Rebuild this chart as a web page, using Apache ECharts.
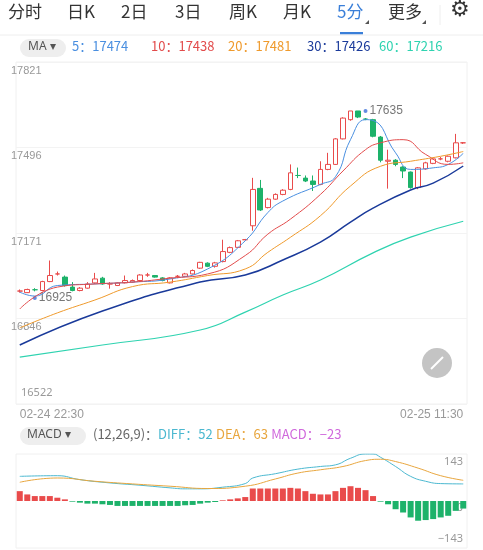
<!DOCTYPE html>
<html><head><meta charset="utf-8">
<script src="https://cdn.jsdelivr.net/npm/echarts@6/dist/echarts.min.js"></script>
<style>html,body{margin:0;padding:0;background:#fff}#c{width:483px;height:550px}</style>
</head><body><div id="c"></div>
<script>
// [open, close, low, high]
const candles = [
[16951,16951,16945,16957],[16945,16957,16944,16960],[16956,16956,16950,16962],[16953,16987,16950,16990],
[16987,17010,16985,17067],[17016,17016,17010,17025],[17004,16972,16968,17010],[16966,16953,16950,16985],
[16953,16962,16950,16966],[16962,16978,16960,16985],[16982,16997,16978,17020],[17000,16978,16975,17005],
[16978,16978,16960,16985],[16972,16982,16970,16985],[16982,16991,16980,17010],[16985,16991,16982,16995],
[16991,17012,16988,17015],[17012,17012,17005,17020],[17010,17004,17002,17012],[17001,16991,16988,17004],
[16982,17001,16980,17004],[17007,17007,17000,17012],[17007,17016,17005,17020],[17016,17029,17014,17033],
[17038,17060,17035,17062],[17057,17045,17042,17060],[17045,17058,17040,17062],[17063,17101,17060,17146],
[17098,17116,17095,17120],[17117,17142,17115,17145],[17146,17146,17143,17149],[17199,17337,17180,17381],
[17341,17259,17255,17373],[17268,17300,17265,17305],[17300,17318,17298,17322],[17318,17334,17315,17338],
[17337,17400,17334,17432],[17390,17390,17380,17420],[17380,17369,17365,17390],[17369,17356,17331,17390],
[17356,17413,17353,17444],[17413,17432,17410,17476],[17432,17529,17430,17532],[17529,17608,17527,17611],
[17602,17635,17598,17635],[17635,17612,17608,17635],[17604,17604,17600,17608],[17602,17539,17535,17605],
[17536,17448,17440,17540],[17444,17448,17340,17488],[17448,17432,17425,17452],[17422,17407,17380,17425],
[17403,17344,17340,17405],[17344,17419,17338,17422],[17415,17438,17412,17442],[17436,17453,17433,17456],
[17453,17453,17448,17460],[17444,17463,17440,17466],[17457,17514,17455,17548],[17514,17514,17510,17517]];
const ma5  = [16947,null,16932,null,null,16972,null,null,null,null,16978,null,null,null,null,16985,null,null,null,null,16997,null,null,null,null,17035,null,null,null,null,17142,null,null,17249,null,17293,null,null,null,null,17356,null,17385,null,17526,null,17602,17599,null,null,17476,null,17413,null,null,17419,null,17432,null,17474];
const ma10 = [16883,null,null,null,null,16966,null,null,null,null,16978,null,null,null,null,16985,null,null,null,null,17000,null,null,null,null,17016,null,null,null,null,17086,null,null,17167,null,null,17224,null,null,null,17318,null,null,17407,null,null,17488,null,17514,null,null,17526,null,null,17470,null,null,17432,null,17438];
const ma20 = [16811,null,null,null,null,16868,null,null,null,null,16917,null,null,null,null,16968,null,null,null,null,16985,null,null,null,null,17010,null,null,null,null,17035,null,null,17098,null,null,17155,null,null,null,17237,null,null,null,17350,null,null,null,17425,null,null,null,17444,null,null,null,17463,null,null,17481];
const ma30 = [16746,null,null,null,null,null,null,null,null,null,null,16875,null,null,null,null,null,null,null,null,null,null,null,null,16985,null,null,null,null,null,17012,null,null,null,null,17069,null,null,null,null,17137,null,null,null,17213,null,null,17266,null,null,null,null,17335,null,null,17361,null,null,null,17426];
const ma60 = [16700,null,null,null,null,null,null,null,null,null,null,16746,null,null,null,null,null,null,null,null,null,null,null,null,16803,null,null,null,null,null,16871,null,null,null,null,16936,null,null,null,null,16993,null,null,null,null,null,null,17096,null,null,null,null,17156,null,null,null,null,null,null,17216];
const macdBars = [30,20,15,15,15,10,5,-2,-5,-8,-8,-10,-12,-15,-15,-15,-15,-15,-15,-15,-15,-15,-13,-12,-8,-5,-3,2,5,8,12,38,38,38,38,38,40,38,30,22,20,20,30,40,45,40,33,15,-2,-10,-25,-35,-50,-60,-58,-55,-50,-45,-30,-23];
const diff = [75,null,null,null,null,77,null,null,65,null,null,null,55,null,null,null,48,null,null,null,40,null,37,null,37,null,null,42,null,null,53,70,null,null,83,null,null,97,null,null,105,null,110,null,130,null,143,143,133,null,105,null,75,null,60,null,53,null,null,52];
const dea = [57,null,null,null,null,70,null,null,null,null,60,null,null,null,null,52,null,null,null,null,45,null,null,null,null,38,null,null,null,null,45,null,null,null,67,null,null,85,null,null,95,null,null,105,null,null,123,null,127,null,120,null,null,100,null,null,77,null,null,63];
const categories = candles.map((d,i)=> i===0 ? '02-24 22:30' : (i===candles.length-1 ? '02-25 11:30' : 't'+i));
const yTicks = [16522,16846,17171,17496,17821];
const extremes = [[46.2,17635],[1.8,16925]];
const tabs = ['分时','日K','2日','3日','周K','月K','5分','更多'];
const tabX = [8,67,121,175,229,283,337,388];
const maLegend = [['5：17474','#4a8fe0',72],['10：17438','#e24b4b',151],['20：17481','#ef9a2c',228],['30：17426','#1a3a9a',307],['60：17216','#2fd3b0',379]];

const RED='#e94b4b', GREEN='#1db26a';
const chart = echarts.init(document.getElementById('c'));
const g = [];
tabs.forEach((t,i)=>g.push({type:'text',left:tabX[i],top:3,style:{text:t,font:'17px "Noto Sans CJK SC"',fill:i===6?'#3a7fd9':'#333'}}));
g.push({type:'polygon',shape:{points:[[365,24],[369,24],[369,20]]},style:{fill:'#555'}});
g.push({type:'polygon',shape:{points:[[422,24],[426,24],[426,20]]},style:{fill:'#555'}});
g.push({type:'rect',shape:{x:340,y:32,width:23,height:2.5},style:{fill:'#3a7fd9'}});
g.push({type:'line',shape:{x1:0,y1:35,x2:483,y2:35},style:{stroke:'#eee',lineWidth:1}});
g.push({type:'line',shape:{x1:440,y1:5,x2:440,y2:25},style:{stroke:'#eee',lineWidth:1}});
g.push({type:'text',left:450,top:-1,style:{text:'⚙',font:'22px DejaVu Sans',fill:'#333'}});
g.push({type:'rect',shape:{x:20,y:39,width:46,height:18,r:9},style:{fill:'#eeeeee'}});
g.push({type:'text',left:28,top:41,style:{text:'MA ▾',font:'12px "Noto Sans"',fill:'#555'}});
maLegend.forEach(m=>g.push({type:'text',left:m[2],top:40,style:{text:m[0],font:'13px "Noto Sans CJK SC"',fill:m[1]}}));
g.push({type:'rect',shape:{x:16,y:62,width:451,height:342},style:{fill:'none',stroke:'#f0f0f0'}});
g.push({type:'rect',shape:{x:16,y:454,width:451,height:94},style:{fill:'none',stroke:'#f0f0f0'}});
g.push({type:'text',left:21,top:387,style:{text:'16522',font:'11px "Noto Sans"',fill:'#999'}});
g.push({type:'circle',shape:{cx:437,cy:363,r:15},style:{fill:'#c4c4c4'}});
g.push({type:'line',shape:{x1:431,y1:369,x2:443,y2:357},style:{stroke:'#fff',lineWidth:2}});
g.push({type:'rect',shape:{x:20,y:427,width:66,height:18,r:9},style:{fill:'#eeeeee'}});
g.push({type:'text',left:27,top:429,style:{text:'MACD ▾',font:'12px "Noto Sans"',fill:'#555'}});
g.push({type:'text',left:93,top:428,style:{rich:{a:{fill:'#666',font:'13px "Noto Sans CJK SC"'},b:{fill:'#4bb8d0',font:'13px "Noto Sans CJK SC"'},c:{fill:'#e8a63e',font:'13px "Noto Sans CJK SC"'},d:{fill:'#d068dc',font:'13px "Noto Sans CJK SC"'}},text:'{a|(12,26,9)：}{b|DIFF：52} {c|DEA：63} {d|MACD：−23}'}});
g.push({type:'text',right:20,top:456,style:{text:'143',font:'11px "Noto Sans"',fill:'#999'}});
g.push({type:'text',right:20,top:502,style:{text:'0',font:'11px "Noto Sans"',fill:'#999'}});
g.push({type:'text',right:20,top:533,style:{text:'−143',font:'11px "Noto Sans"',fill:'#999'}});

chart.setOption({
  animation:false,
  graphic:g,
  grid:[{left:16,right:16,top:62,height:342},{left:16,right:16,top:454,height:94}],
  xAxis:[
    {type:'category',data:categories,gridIndex:0,boundaryGap:true,axisLine:{show:false},axisTick:{show:false},
     axisLabel:{interval:0,formatter:(v,i)=>(i===0||i===categories.length-1)?v:'',color:'#999',fontSize:12,margin:5,alignMinLabel:'left',alignMaxLabel:'right'}},
    {type:'category',data:categories,gridIndex:1,axisLine:{show:false},axisTick:{show:false},axisLabel:{show:false}}
  ],
  yAxis:[
    {min:16522,max:17821,interval:324.75,gridIndex:0,position:'left',axisLine:{show:false},axisTick:{show:false},
     splitLine:{lineStyle:{color:'#f3f3f3'}},
     axisLabel:{inside:true,verticalAlign:'top',color:'#999',fontSize:11,margin:-5,padding:[3,0,0,0],
       formatter:v=>{const n=Math.round(v);return n===16522?'':String(yTicks.reduce((a,b)=>Math.abs(b-n)<Math.abs(a-n)?b:a));}}},
    {min:-143,max:143,interval:143,gridIndex:1,axisLine:{show:false},axisTick:{show:false},axisLabel:{show:false},
     splitLine:{show:false}}
  ],
  series:[
    {type:'candlestick',data:candles,xAxisIndex:0,yAxisIndex:0,barWidth:'68%',
     itemStyle:{color:'#fff',color0:GREEN,borderColor:RED,borderColor0:GREEN,borderWidth:1}},
    {type:'line',data:ma5,connectNulls:true,smooth:true,symbol:'none',lineStyle:{color:'#4a8fe0',width:1}},
    {type:'line',data:ma10,connectNulls:true,smooth:true,symbol:'none',lineStyle:{color:'#e24b4b',width:1}},
    {type:'line',data:ma20,connectNulls:true,smooth:true,symbol:'none',lineStyle:{color:'#ef9a2c',width:1}},
    {type:'line',data:ma30,connectNulls:true,smooth:true,symbol:'none',lineStyle:{color:'#1a3a9a',width:1.5}},
    {type:'line',data:ma60,connectNulls:true,smooth:true,symbol:'none',lineStyle:{color:'#2fd3b0',width:1.2}},
    {type:'scatter',data:extremes,symbolSize:4,itemStyle:{color:'#3a6fd9'},
     label:{show:true,position:'right',distance:2,color:'#555',fontSize:12,formatter:p=>String(p.value[1])}},
    {type:'bar',data:macdBars.map(v=>({value:v,itemStyle:{color:v>=0?RED:GREEN}})),xAxisIndex:1,yAxisIndex:1,barWidth:'80%'},
    {type:'line',data:diff,xAxisIndex:1,yAxisIndex:1,connectNulls:true,smooth:true,symbol:'none',lineStyle:{color:'#4bb8d0',width:1}},
    {type:'line',data:dea,xAxisIndex:1,yAxisIndex:1,connectNulls:true,smooth:true,symbol:'none',lineStyle:{color:'#e8a63e',width:1}}
  ]
});
</script></body></html>
